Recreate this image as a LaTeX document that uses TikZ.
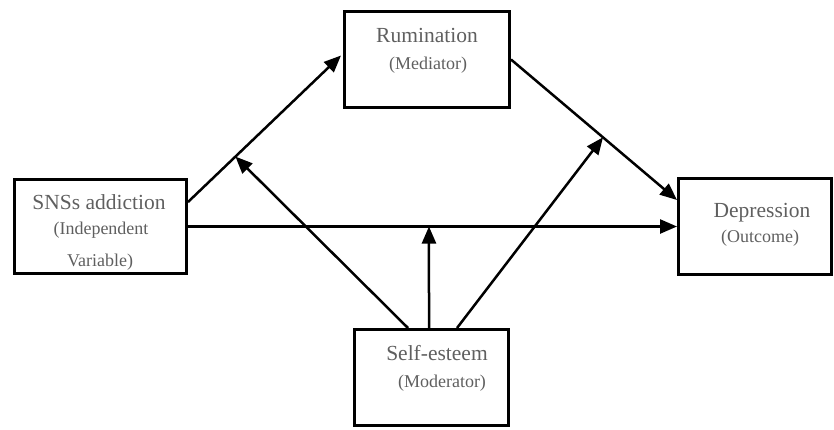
\documentclass[tikz,border=0pt]{standalone}
\usepackage{fontspec}
\setmainfont{Liberation Serif}
\usetikzlibrary{arrows.meta,calc,positioning}
\definecolor{labelgray}{RGB}{95,95,95}

\begin{document}
\begin{tikzpicture}[x=1pt,y=-1pt,>={Triangle[length=17pt,width=14pt]},
	box/.style={draw,rectangle,line width=3pt,inner sep=0pt},
	mainlbl/.style={text=labelgray,font=\fontsize{21.5}{23}\selectfont,inner sep=0pt},
	sublbl/.style={text=labelgray,font=\fontsize{18}{20}\selectfont,inner sep=0pt},
	link/.style={->,line width=2.5pt}]
		\useasboundingbox (0,0) rectangle (834,429);
		% boxes
		\node[box,minimum width=165pt,minimum height=96pt] (rum) at (427,59.5) {};
		\node[box,minimum width=172pt,minimum height=94pt] (sns) at (100.5,226.5) {};
		\node[box,minimum width=153pt,minimum height=96pt] (dep) at (755,226.5) {};
		\node[box,minimum width=154pt,minimum height=96pt] (mod) at (431.5,377.5) {};
		% labels
		\node[mainlbl] (rumT) at (427,35) {Rumination};
		\node[sublbl] (rumS) at (428,65) {(Mediator)};
		\node[mainlbl] (snsT) at (99,202) {SNSs addiction};
		\node[sublbl] (snsS) at (101,230) {(Independent};
		\node[sublbl] (snsV) at (100,262) {Variable)};
		\node[mainlbl] (depT) at (762,213) {Depression};
		\node[sublbl] (depS) at (760,238) {(Outcome)};
		\node[mainlbl] (modT) at (437,353) {Self-esteem};
		\node[sublbl] (modS) at (442,383) {(Moderator)};
		% paths
		\draw[link] ([yshift=24.5pt]sns.east) -- ([yshift=4pt,xshift=-2pt]rum.west)
			coordinate[pos=0.31] (m1);
		\draw[link] (sns.east) -- (dep.west) coordinate[pos=0.4928] (m2);
		\draw[link] (rum.east) -- ([yshift=26.5pt]dep.west) coordinate[pos=0.554] (m3);
		% moderation
		\draw[link] ([xshift=-23.5pt]mod.north) -- (m1);
		\draw[link] ([xshift=-2.5pt]mod.north) -- (m2);
		\draw[link] ([xshift=25.5pt]mod.north) -- (m3);
\end{tikzpicture}
\end{document}
